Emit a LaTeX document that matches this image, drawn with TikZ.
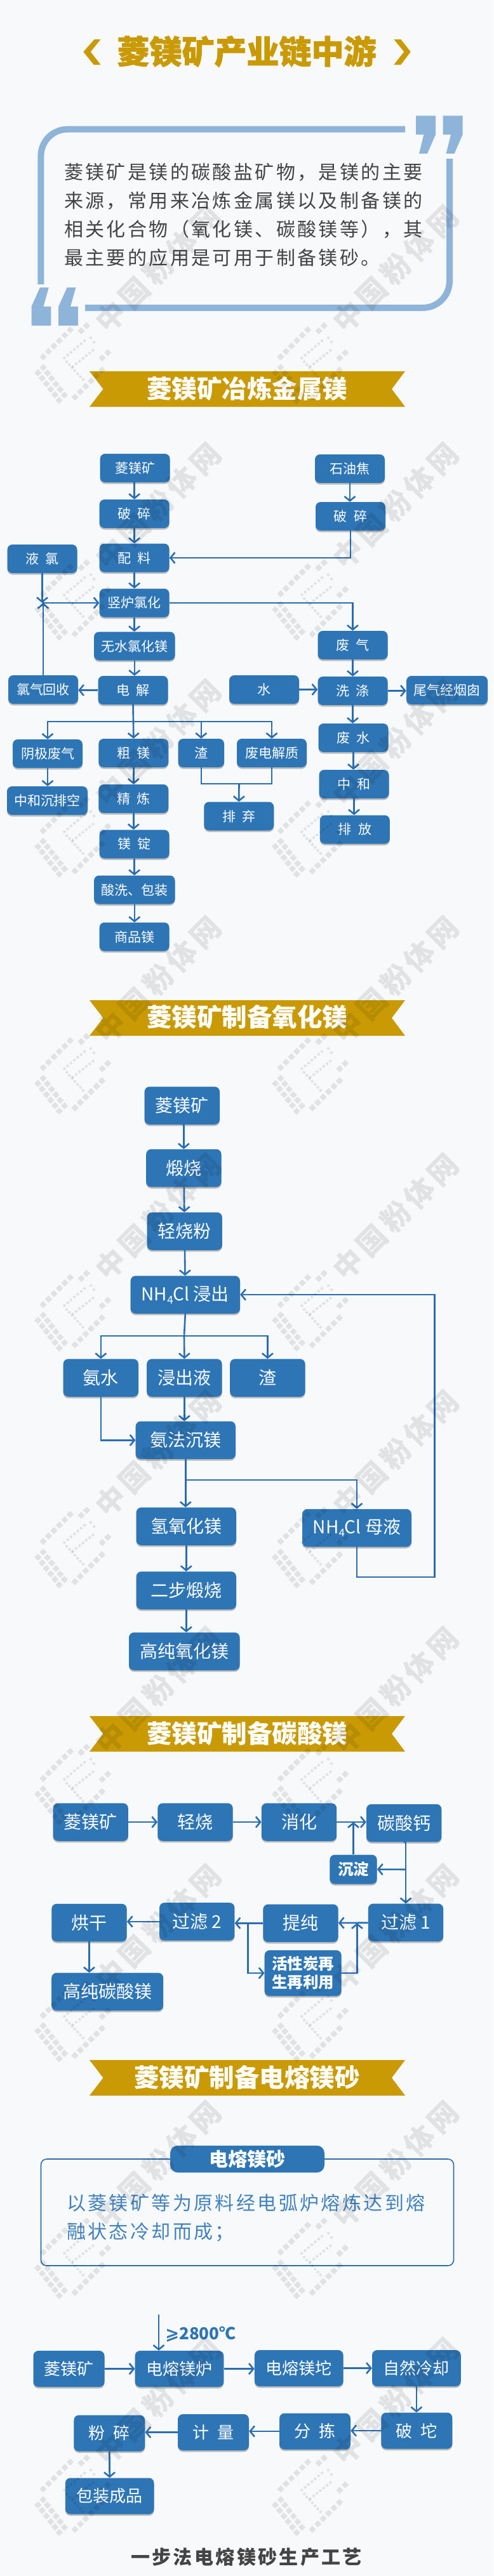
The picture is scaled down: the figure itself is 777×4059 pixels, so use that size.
\documentclass[tikz,border=0pt]{standalone}
\usepackage{fontspec}
\setmainfont{Noto Sans CJK SC}
\newfontfamily\widefont[LetterSpace=11.3]{Noto Sans CJK SC}
\newfontfamily\markfont[LetterSpace=15]{Noto Sans CJK SC}
\newfontfamily\heavyfont[BoldFeatures={FakeBold=1.6}]{Noto Sans CJK SC}
\newfontfamily\symfont{DejaVu Sans}
\usetikzlibrary{calc,shadows,arrows.meta}
\definecolor{pagebg}{HTML}{F8F9FB}
\definecolor{boxblue}{HTML}{2E75B6}
\definecolor{flowblue}{HTML}{2A6DB0}
\definecolor{quoteblue}{HTML}{8FB4D9}
\definecolor{gold}{HTML}{C99A04}
\definecolor{inkgray}{HTML}{444444}
\newcommand{\subfour}{{\fontsize{17}{17}\selectfont\raisebox{-5pt}{4}}}
\newcommand{\marktile}[3]{\fill[shift={(#1,#2)},rotate=45] (-#3,-#3) rectangle (#3,#3);}
\tikzset{
    x=1pt,y=-1pt,
    flowbox/.style={fill=boxblue,text=white,rounded corners=8pt,inner sep=0pt,
        minimum width=110,minimum height=45,align=center,
        drop shadow={shadow xshift=0pt,shadow yshift=-2.5pt,opacity=.35,fill=black!70}},
    onebox/.style={flowbox,font=\fontsize{21}{25}\selectfont},
    twobox/.style={flowbox,minimum width=118.4,minimum height=59.5,font=\fontsize{28}{32}\selectfont},
    fourbox/.style={flowbox,minimum width=112,minimum height=57,font=\fontsize{26}{30}\selectfont},
    smallbox/.style={flowbox,drop shadow={opacity=0},font=\bfseries\fontsize{24.5}{29}\selectfont},
    flow/.style={draw=flowblue,line width=2.6pt,
        -{Straight Barb[length=7pt,width=17pt,line width=2.6pt]}},
    wire/.style={draw=flowblue,line width=2.6pt},
    banner/.style={fill=gold},
    bannertext/.style={text=white,inner sep=0pt,font=\bfseries\fontsize{39.5}{44}\selectfont},
    markarea/.style={fill=black,fill opacity=.09},
    wmark/.pic={
        \begin{scope}[markarea]
            \foreach \n in {0,...,5} {
                \marktile{-45+8.5*\n}{-11.7-8.5*\n}{4}
                \marktile{5+8.5*\n}{51.7-8.5*\n}{4}
                \marktile{-53.3+6.7*\n}{13.3+8.7*\n}{4}
                \marktile{-45+6.7*\n}{5+8.7*\n}{4}
            }
            \marktile{15}{-52.7}{4}
            \marktile{23.3}{-60.7}{4}
            \marktile{48}{-10}{4}
            \marktile{56.7}{-18.3}{4}
            \foreach \n in {0,...,6} {
                \marktile{-11.7+5.3*\n}{-10-4.5*\n}{1.9}
                \marktile{1.7+5.3*\n}{3.3-4.2*\n}{1.9}
                \marktile{-8+4.3*\n}{-4+4.7*\n}{1.9}
            }
            \marktile{30}{-41.7}{1.9}
            \marktile{35}{-35}{1.9}
        \end{scope}
        \node[rotate=45,inner sep=0pt,text opacity=.09,
            font=\markfont\bfseries\fontsize{46}{50}\selectfont] (label) at (136,-150) {中国粉体网};
    }
}

\begin{document}
\begin{tikzpicture}
    \fill[pagebg] (0,0) rectangle (777,4059);
    \useasboundingbox (0,0) rectangle (777,4059);

    % title and quote box
    \fill[gold] (148.7,62) -- (158.6,62) -- (142.7,81.6) -- (158.6,102) -- (147.7,102) -- (131.3,81.6) -- cycle;
    \fill[gold] (620.4,62) -- (631.3,62) -- (646.7,81.6) -- (631.3,102) -- (620.4,102) -- (636.3,81.6) -- cycle;
    \node[text=gold,inner sep=0pt,font=\heavyfont\bfseries\fontsize{51}{56}\selectfont] (maintitle) at (388.5,81) {菱镁矿产业链中游};

    \draw[quoteblue,line width=10pt,rounded corners=42pt] (638,203.7) -- (64.4,203.7) -- (64.4,448);
    \draw[quoteblue,line width=10pt,rounded corners=42pt] (134,485) -- (708,485) -- (708,250);
    \foreach \dx in {0,42.6} {
        \fill[quoteblue,shift={(\dx,0)}] (655,182.4) -- (686,182.4) -- (686,212) -- (673,242) -- (660,242) -- (667.5,212) -- (655,212) -- cycle;
        \fill[quoteblue,shift={(\dx,0)}] (49.5,513) -- (80.3,513) -- (80.3,483) -- (68.4,483) -- (76.8,453) -- (63,453) -- (49.5,483) -- cycle;
    }
    \node[anchor=west,align=left,inner sep=0pt,text=inkgray,font=\widefont\fontsize{30}{45}\selectfont] (intro) at (101,338.5)
        {菱镁矿是镁的碳酸盐矿物，是镁的主要\\来源，常用来冶炼金属镁以及制备镁的\\相关化合物（氧化镁、碳酸镁等），其\\最主要的应用是可用于制备镁砂。};

    % ribbons
    \foreach \y/\name/\txt in {585/ribone/菱镁矿冶炼金属镁,1576/ribtwo/菱镁矿制备氧化镁,2704/ribthree/菱镁矿制备碳酸镁,3246/ribfour/菱镁矿制备电熔镁砂} {
        \fill[banner,shift={(0,\y)}] (141,0) -- (638,0) -- (617,28) -- (638,56) -- (141,56) -- (162.5,28) -- cycle;
        \node[bannertext] (\name) at (389,\y+27) {\txt};
    }

    % metal magnesium
    \node[onebox] (oreA) at (212.6,737.5) {菱镁矿};
    \node[onebox] (crushA) at (211.6,809.5) {破\enspace 碎};
    \node[onebox] (mixA) at (211.6,879) {配\enspace 料};
    \node[onebox] (liqcl) at (66.5,880.5) {液\enspace 氯};
    \node[onebox] (furnA) at (211.6,950) {竖炉氯化};
    \node[onebox,minimum width=127.5] (mgcl) at (211.8,1018) {无水氯化镁};
    \node[onebox] (elec) at (209.5,1087.5) {电\enspace 解};
    \node[onebox] (clrec) at (68,1086.5) {氯气回收};
    \node[onebox] (coke) at (551,738.5) {石油焦};
    \node[onebox] (crushB) at (552,813.5) {破\enspace 碎};
    \node[onebox] (wgas) at (555.5,1016.5) {废\enspace 气};
    \node[onebox] (wash) at (555.5,1088.5) {洗\enspace 涤};
    \node[onebox] (water) at (416,1086.5) {水};
    \node[onebox,minimum width=128] (tail) at (704,1087.5) {尾气经烟囱};
    \node[onebox] (cath) at (75,1187.5) {阴极废气};
    \node[onebox] (crude) at (210.3,1186.5) {粗\enspace 镁};
    \node[onebox,minimum width=72.5] (slagA) at (316.8,1186.5) {渣};
    \node[onebox] (wele) at (428,1186.5) {废电解质};
    \node[onebox,minimum width=127] (neutA) at (74.5,1261.5) {中和沉排空};
    \node[onebox] (refine) at (210.3,1258.5) {精\enspace 炼};
    \node[onebox] (ingot) at (211.6,1330) {镁\enspace 锭};
    \node[onebox,minimum width=127.5] (pack) at (211.8,1402) {酸洗、包装};
    \node[onebox] (prod) at (211.6,1476) {商品镁};
    \node[onebox] (dump) at (376.3,1286) {排\enspace 弃};
    \node[onebox] (wwater) at (556.5,1162.5) {废\enspace 水};
    \node[onebox] (neutB) at (557.5,1235.5) {中\enspace 和};
    \node[onebox] (disc) at (558.8,1307) {排\enspace 放};
    \coordinate (clmeet) at (66.5,950);
    \coordinate (busA) at (210,1137);
    \coordinate (joinA) at (376.5,1235);

    \draw[flow] (oreA.south) -- (oreA.south-|crushA.north) -- (crushA.north);
    \draw[flow] (crushA) -- (mixA);
    \draw[flow] (mixA) -- (furnA);
    \draw[flow] (furnA.south) -- (furnA.south|-mgcl.north);
    \draw[flow] (mgcl.south) -- (mgcl.south|-elec.north);
    \draw[flow] (elec.west) -- (elec.west-|clrec.east);
    \draw[flow] (coke.south) -- (coke.south|-crushB.north);
    \draw[flow] (crushB.south) |- (mixA.east);
    \draw[flow] (liqcl.south) -- (clmeet);
    \draw[flow] (clrec.north) -- (clrec.north|-clmeet);
    \draw[flow] (clmeet) -- (furnA.west);
    \draw[flow] (furnA.east) -| (wgas.north);
    \draw[flow] (wgas) -- (wash);
    \draw[flow] (water.east) -- (water.east-|wash.west);
    \draw[flow] (wash.east) -- (wash.east-|tail.west);
    \draw[flow] (wash.south) -- (wash.south|-wwater.north);
    \draw[flow] (wwater.south) -- (wwater.south|-neutB.north);
    \draw[flow] (neutB.south) -- (neutB.south|-disc.north);
    \draw[wire] (elec.south) -- (busA);
    \draw[flow] (busA) -| (cath.north);
    \draw[flow] (busA) -- (crude.north);
    \draw[flow] (busA) -| (slagA.north);
    \draw[flow] (busA) -| (wele.north);
    \draw[flow] (cath.south) -- (cath.south|-neutA.north);
    \draw[flow] (crude) -- (refine);
    \draw[flow] (refine.south) -- (refine.south|-ingot.north);
    \draw[flow] (ingot.south) -- (ingot.south|-pack.north);
    \draw[flow] (pack.south) -- (pack.south|-prod.north);
    \draw[wire] (slagA.south) |- (joinA);
    \draw[wire] (wele.south) |- (joinA);
    \draw[flow] (joinA) -- (dump.north);

    % magnesium oxide
    \node[twobox] (oreB) at (286.8,1742) {菱镁矿};
    \node[twobox] (calc) at (289.4,1840.5) {煅烧};
    \node[twobox] (light) at (290.7,1940) {轻烧粉};
    \node[twobox,minimum width=172.4] (leach) at (291.8,2040) {NH\subfour Cl 浸出};
    \node[twobox] (ammw) at (158.8,2171) {氨水};
    \node[twobox] (liq) at (290.4,2171) {浸出液};
    \node[twobox] (slagB) at (421.4,2171) {渣};
    \node[twobox,minimum width=157.4] (sink) at (292.3,2269.3) {氨法沉镁};
    \node[twobox,minimum width=157.4] (hydr) at (293.3,2405) {氢氧化镁};
    \node[twobox,minimum width=172] (mother) at (562,2407.5) {NH\subfour Cl 母液};
    \node[twobox,minimum width=157.4] (twostep) at (293.3,2506) {二步煅烧};
    \node[twobox,minimum width=174.6] (pureB) at (290.3,2602) {高纯氧化镁};
    \coordinate (busB) at (290,2105);
    \coordinate (forkB) at (293.4,2332);
    \coordinate (backB) at (684.4,2485);

    \draw[flow] (oreB.south) -- (oreB.south-|calc.north) -- (calc.north);
    \draw[flow] (calc) -- (light);
    \draw[flow] (light) -- (leach);
    \draw[wire] (leach.south) -- (busB);
    \draw[flow] (busB) -| (ammw.north);
    \draw[flow] (busB) -- (liq.north);
    \draw[flow] (busB) -| (slagB.north);
    \draw[flow] (ammw.south) |- (sink.west);
    \draw[flow] (liq.south) -- (liq.south|-sink.north);
    \draw[flow] (sink.south) -- (sink.south|-hydr.north);
    \draw[flow] (forkB) -| (mother.north);
    \draw[flow] (hydr) -- (twostep);
    \draw[flow] (twostep.south) -- (twostep.south|-pureB.north);
    \draw[flow] (mother.south) |- (backB) |- (leach.east);

    % magnesium carbonate
    \node[twobox] (oreC) at (142.7,2871) {菱镁矿};
    \node[twobox] (lightC) at (307.5,2871) {轻烧};
    \node[twobox] (digest) at (471,2871) {消化};
    \node[twobox] (caco) at (636.2,2872.5) {碳酸钙};
    \node[smallbox,minimum width=74.4,minimum height=46] (settle) at (556.5,2945.5) {沉淀};
    \node[twobox] (filtA) at (639,3029.3) {过滤 1};
    \node[twobox] (purify) at (473.5,3030.3) {提纯};
    \node[twobox] (filtB) at (310.2,3027.8) {过滤 2};
    \node[twobox] (dry) at (140.5,3029.5) {烘干};
    \node[twobox,minimum width=176] (pureC) at (169.2,3138.3) {高纯碳酸镁};
    \node[smallbox,minimum width=121,minimum height=72] (carbon) at (477.2,3109) {活性炭再\\生再利用};
    \coordinate (forkC) at (638.8,2945.7);
    \coordinate (forkD) at (390.5,3029);
    \coordinate (meetC) at (562.4,3030);

    \draw[flow] (oreC) -- (lightC);
    \draw[flow] (lightC) -- (digest);
    \draw[flow] (digest.east) -- (digest.east-|caco.west);
    \draw[flow] (settle.north) -- (settle.north|-digest.east);
    \draw[flow] (caco.south) -- (caco.south-|filtA.north) -- (filtA.north);
    \draw[flow] (forkC) -- (settle.east);
    \draw[flow] (filtA) -- (purify);
    \draw[flow] (purify.west) -- (purify.west-|filtB.east);
    \draw[flow] (filtB.west) -- (filtB.west-|dry.east);
    \draw[flow] (dry.south) -- (dry.south|-pureC.north);
    \draw[flow] (forkD) |- (carbon.west);
    \draw[flow] (carbon.east) -| (meetC);

    % fused magnesia
    \node[draw=flowblue,line width=1.6pt,rounded corners=9pt,inner sep=0pt,minimum width=650,minimum height=168] (fusedframe) at (389.5,3486) {};
    \node[fill=boxblue,text=white,rounded corners=12pt,inner sep=0pt,minimum width=243,minimum height=42.5,font=\bfseries\fontsize{30}{34}\selectfont] (fusedhead) at (389.5,3402) {电熔镁砂};
    \node[anchor=west,align=left,inner sep=0pt,text=boxblue!90!white,font=\widefont\fontsize{30}{44.8}\selectfont] (fusedtext) at (105,3494.5)
        {以菱镁矿等为原料经电弧炉熔炼达到熔\\融状态冷却而成；};

    \node[fourbox] (oreD) at (108.5,3732.5) {菱镁矿};
    \node[fourbox,minimum width=139.7] (furnD) at (282.5,3732.5) {电熔镁炉};
    \node[fourbox,minimum width=139.7] (ingotD) at (470.8,3731.5) {电熔镁坨};
    \node[fourbox,minimum width=139.7] (cool) at (655.9,3731.5) {自然冷却};
    \node[fourbox] (breakD) at (656.3,3830) {破\enspace 坨};
    \node[fourbox] (sort) at (496,3831) {分\enspace 拣};
    \node[fourbox] (meas) at (336,3832.5) {计\enspace 量};
    \node[fourbox] (grind) at (172.3,3834) {粉\enspace 碎};
    \node[fourbox,minimum width=139.7] (pkg) at (172.7,3933) {包装成品};
    \coordinate (heatin) at (250,3647);
    \node[text=boxblue,inner sep=0pt,font=\bfseries\fontsize{26}{30}\selectfont] (heat) at (316,3678) {{\symfont ⩾}2800℃};
    \node[text=inkgray,inner sep=0pt,font=\widefont\bfseries\fontsize{30}{34}\selectfont] (fusedcap) at (388,4029) {一步法电熔镁砂生产工艺};

    \draw[flow] (heatin) -- (heatin|-furnD.north);
    \draw[flow] (oreD.east) -- (oreD.east-|furnD.west);
    \draw[flow] (furnD.east) -- (furnD.east-|ingotD.west);
    \draw[flow] (ingotD) -- (cool);
    \draw[flow] (cool.south) -- (cool.south|-breakD.north);
    \draw[flow] (breakD.west) -- (breakD.west-|sort.east);
    \draw[flow] (sort.west) -- (sort.west-|meas.east);
    \draw[flow] (meas.west) -- (meas.west-|grind.east);
    \draw[flow] (grind) -- (pkg);

    % watermark
    \foreach \k in {0,...,9} {
        \foreach \j in {0,1} {
            \pic (wm\k\j) at ({113+374*\j},{574+373.3*\k}) {wmark};
        }
    }
\end{tikzpicture}
\end{document}
